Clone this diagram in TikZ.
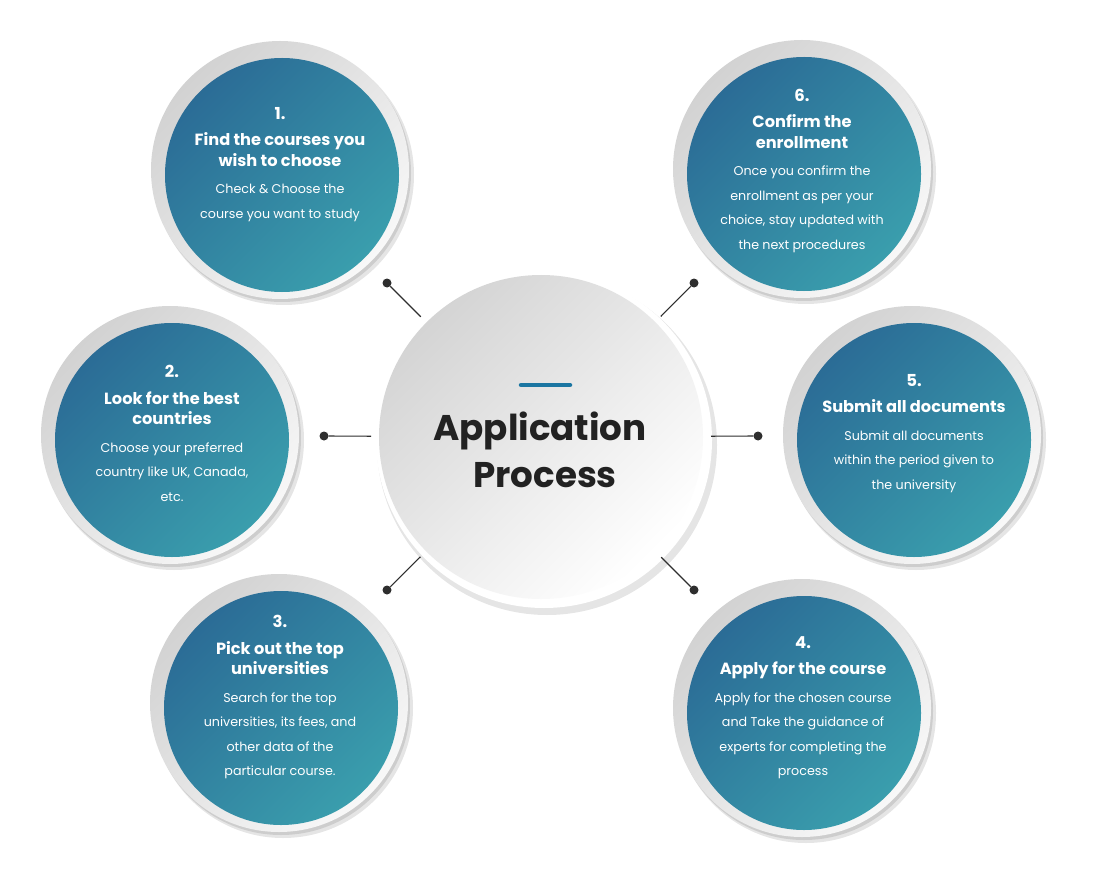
\documentclass[tikz,border=0pt]{standalone}
\usepackage{fontspec}
\setmainfont{Poppins}
\usetikzlibrary{positioning}
\definecolor{ink}{HTML}{222222}
\definecolor{tealdark}{HTML}{2B6C96}
\definecolor{teallight}{HTML}{3A9EAD}
\definecolor{ringdark}{HTML}{D2D2D2}
\definecolor{ringlight}{HTML}{F8F8F8}
\definecolor{hubdark}{HTML}{D4D4D4}
\definecolor{accent}{HTML}{1B76A2}
\definecolor{wire}{HTML}{2E2E2E}
\tikzset{
  stepdisc/.style={circle,minimum size=234pt,inner sep=0pt,top color=tealdark,bottom color=teallight,shading angle=45},
  ringdisc/.style={top color=ringdark,bottom color=ringlight,shading angle=45},
  halo/.style={fill=black,opacity=0.10},
  hubdisc/.style={circle,minimum size=324pt,inner sep=0pt,outer sep=8pt,top color=hubdark,bottom color=white,shading angle=45},
  steptext/.style={text=white,text width=230pt,align=center,inner sep=0pt,anchor=north},
  hubtitle/.style={font=\fontsize{35.7}{47}\selectfont\bfseries,text=ink,anchor=base,inner sep=0pt},
  wirelink/.style={draw=wire,line width=1.1pt},
  dot/.style={circle,fill=wire,inner sep=0pt,minimum size=9pt}
}
\newcommand\stepnum[1]{{\fontsize{16.5}{20}\selectfont\bfseries #1\par}\vspace{6pt}}
\newcommand\steptitle[1]{{\fontsize{16.2}{20.5}\selectfont\bfseries #1\par}\vspace{3pt}}
\newcommand\stepbody[1]{{\fontsize{12.7}{24.5}\selectfont #1\par}}

\begin{document}
\begin{tikzpicture}[x=1pt,y=-1pt]
  \useasboundingbox (0,0) rectangle (1105,885);
  \fill[white] (0,0) rectangle (1105,885);

  % outer rings with soft shadow
  \foreach \cx/\cy in {280/170,170/435,279/703,802/708,912/435,802/169}{
    \fill[halo] (\cx+4,\cy+5) circle (130pt);
    \fill[halo] (\cx+2,\cy+3) circle (129pt);
    \shade[ringdisc] (\cx,\cy) circle (129pt);
  }

  % step discs
  \node[stepdisc] (s1) at (282,175) {};
  \node[stepdisc] (s2) at (172,440) {};
  \node[stepdisc] (s3) at (281,708) {};
  \node[stepdisc] (s4) at (804,713) {};
  \node[stepdisc] (s5) at (914,440) {};
  \node[stepdisc] (s6) at (804,174) {};

  % centre
  \fill[halo] (547,445) circle (170pt);
  \fill[white] (544,440) circle (168pt);
  \node[hubdisc] (hub) at (541,437) {};
  \draw[accent,line width=4.5pt,line cap=round] (521,385) -- (570,385);
  \node[hubtitle] (apptitle) at (540,440) {Application};
  \node[hubtitle] (proctitle) at (545,487) {Process};

  % connectors
  \node[dot] (d1) at (387,283) {};
  \node[dot] (d2) at (324,436) {};
  \node[dot] (d3) at (387,590) {};
  \node[dot] (d4) at (694,590) {};
  \node[dot] (d5) at (758,436) {};
  \node[dot] (d6) at (694,283) {};
  \draw[wirelink] (d1) -- (hub);
  \draw[wirelink] (d2) -- (hub);
  \draw[wirelink] (d3) -- (hub);
  \draw[wirelink] (d4) -- (hub);
  \draw[wirelink] (d5) -- (hub);
  \draw[wirelink] (d6) -- (hub);

  % texts
  \node[steptext] (t1) at (280,107) {\stepnum{1.}\steptitle{Find the courses you\\wish to choose}\stepbody{Check \& Choose the\\course you want to study}};
  \node[steptext] (t2) at (172,365) {\stepnum{2.}\steptitle{Look for the best\\countries}\stepbody{Choose your preferred\\country like UK, Canada,\\etc.}};
  \node[steptext] (t3) at (280,615) {\stepnum{3.}\steptitle{Pick out the top\\universities}\stepbody{Search for the top\\universities, its fees, and\\other data of the\\particular course.}};
  \node[steptext] (t4) at (803,636) {\stepnum{4.}\steptitle{Apply for the course}\stepbody{Apply for the chosen course\\and Take the guidance of\\experts for completing the\\process}};
  \node[steptext] (t5) at (914,374) {\stepnum{5.}\steptitle{Submit all documents}\stepbody{Submit all documents\\within the period given to\\the university}};
  \node[steptext] (t6) at (802,89) {\stepnum{6.}\steptitle{Confirm the\\enrollment}\stepbody{Once you confirm the\\enrollment as per your\\choice, stay updated with\\the next procedures}};
\end{tikzpicture}
\end{document}
